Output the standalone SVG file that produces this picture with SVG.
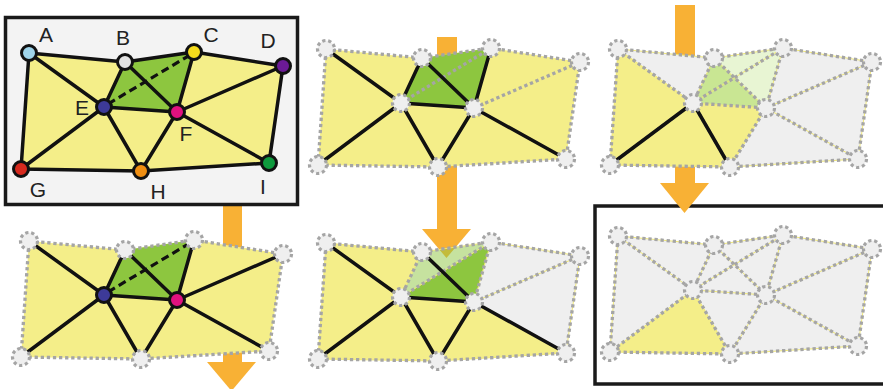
<svg xmlns="http://www.w3.org/2000/svg" xmlns:xlink="http://www.w3.org/1999/xlink" width="883" height="389" viewBox="0 0 883 389">
<style>
.frame{stroke:#1a1a1a;stroke-width:3.5}
.yel{fill:#f4ee89}
.grn{fill:#8dc63f}
.lgrn{fill:#8dc63f;fill-opacity:0.5}
.mgrn{fill:#c9e693}
.vlgrn{fill:#e8f5d3}
.gry{fill:#efefef}
.blk{fill:none;stroke:#111;stroke-width:3.5;stroke-linecap:round;stroke-linejoin:round}
.dash{fill:none;stroke:#111;stroke-width:3.2;stroke-dasharray:8 4.5}
.dot{fill:none;stroke:#a5a5a5;stroke-width:3.3;stroke-dasharray:3.3 2.8}
.thin{fill:none;stroke:#f0e878;stroke-width:1}
.gn{fill:#efefef;stroke:#a5a5a5;stroke-width:3.2;stroke-dasharray:3.2 2.8}
.cn{stroke:#111;stroke-width:3}
.lbl{font-family:"Liberation Sans",Arial,sans-serif;font-size:21px;fill:#222;text-anchor:middle}
.arr{fill:#f8b135}
</style>
<defs>
<path id="outer" d="M29,53 L125,62 L194,52 L283,66 L269,163 L141,171 L21,169 Z"/>
<path id="inner" d="M29,53 L104,107 M125,62 L104,107 M125,62 L177,112 M194,52 L177,112 M104,107 L177,112 M104,107 L21,169 M104,107 L141,171 M177,112 L141,171 M177,112 L283,66 M177,112 L269,163 M104,107 L194,52"/>
<polygon id="outerfill" points="29,53 125,62 194,52 283,66 269,163 141,171 21,169"/>
<polygon id="quad" points="125,62 194,52 177,112 104,107"/>
<g id="gnodes">
<circle class="gn" cx="29" cy="53" r="8.5"/>
<circle class="gn" cx="125" cy="62" r="8.5"/>
<circle class="gn" cx="194" cy="52" r="8.5"/>
<circle class="gn" cx="283" cy="66" r="8.5"/>
<circle class="gn" cx="104" cy="107" r="8.5"/>
<circle class="gn" cx="177" cy="112" r="8.5"/>
<circle class="gn" cx="21" cy="169" r="8.5"/>
<circle class="gn" cx="141" cy="171" r="8.5"/>
<circle class="gn" cx="269" cy="163" r="8.5"/>
</g>
</defs>

<!-- frame of last panel -->
<rect id="frame6" class="frame" x="595" y="206" width="300" height="178" fill="#ffffff"/>

<!-- arrows -->
<g id="arrows">
<rect class="arr" x="223" y="200" width="19" height="163"/>
<polygon class="arr" points="207,362 256,362 231.5,391"/>
<rect class="arr" x="437" y="37" width="20" height="193"/>
<polygon class="arr" points="422,229 471,229 446.5,258"/>
<rect class="arr" x="675" y="5" width="20" height="179"/>
<polygon class="arr" points="660,183 709,183 684.5,213"/>
</g>

<!-- frame of first panel -->
<rect id="frame1" class="frame" x="5.5" y="17.5" width="292" height="187" fill="#f3f3f3"/>

<!-- Panel 1 -->
<g id="panel1">
<use xlink:href="#outerfill" class="yel"/>
<use xlink:href="#quad" class="grn"/>
<g id="p1-connectors">
<use xlink:href="#outer" class="blk"/>
<path class="blk" d="M29,53 L104,107 M125,62 L104,107 M125,62 L177,112 M194,52 L177,112 M104,107 L177,112 M104,107 L21,169 M104,107 L141,171 M177,112 L141,171 M177,112 L283,66 M177,112 L269,163"/>
<path class="dash" d="M108,104 L190,55"/>
</g>
<g id="p1-A"><circle class="cn" cx="29" cy="53" r="7.5" fill="#9fd4ea"/><text class="lbl" x="46" y="42">A</text></g>
<g id="p1-B"><circle class="cn" cx="125" cy="62" r="7.5" fill="#e2e2e2"/><text class="lbl" x="123" y="45">B</text></g>
<g id="p1-C"><circle class="cn" cx="194" cy="52" r="7.5" fill="#f6dc1c"/><text class="lbl" x="211" y="42">C</text></g>
<g id="p1-D"><circle class="cn" cx="283" cy="66" r="7.5" fill="#6b1a96"/><text class="lbl" x="268" y="48">D</text></g>
<g id="p1-E"><circle class="cn" cx="104" cy="107" r="7.5" fill="#3d3a98"/><text class="lbl" x="82" y="115">E</text></g>
<g id="p1-F"><circle class="cn" cx="177" cy="112" r="7.5" fill="#e0117f"/><text class="lbl" x="186" y="141">F</text></g>
<g id="p1-G"><circle class="cn" cx="21" cy="169" r="7.5" fill="#d72a1e"/><text class="lbl" x="38" y="197">G</text></g>
<g id="p1-H"><circle class="cn" cx="141" cy="171" r="7.5" fill="#ef8e12"/><text class="lbl" x="158" y="199">H</text></g>
<g id="p1-I"><circle class="cn" cx="269" cy="163" r="7.5" fill="#0e9a3d"/><text class="lbl" x="263" y="194">I</text></g>
</g>

<!-- Panel 2 -->
<g id="panel2" transform="translate(297,-4)">
<use xlink:href="#outerfill" class="yel"/>
<use xlink:href="#quad" class="grn"/>
<g id="p2-connectors">
<use xlink:href="#outer" class="dot"/>
<path class="dot" d="M104,107 L194,52 M177,112 L283,66"/>
<path class="blk" d="M29,53 L104,107 M125,62 L104,107 M125,62 L177,112 M194,52 L177,112 M104,107 L177,112 M104,107 L21,169 M104,107 L141,171 M177,112 L141,171 M177,112 L269,163"/>
</g>
<g id="p2-nodes"><use xlink:href="#gnodes"/></g>
</g>

<!-- Panel 3 -->
<g id="panel3" transform="translate(589,-4)">
<use xlink:href="#outerfill" class="gry"/>
<polygon class="yel" points="29,53 104,107 177,112 141,171 21,169"/>
<polygon class="mgrn" points="125,62 104,107 177,112"/>
<polygon class="vlgrn" points="125,62 194,52 177,112"/>
<g id="p3-connectors">
<use xlink:href="#outer" class="thin"/>
<use xlink:href="#inner" class="thin"/>
<use xlink:href="#outer" class="dot"/>
<use xlink:href="#inner" class="dot"/>
<path class="blk" d="M104,107 L21,169 M104,107 L141,171"/>
</g>
<g id="p3-nodes"><use xlink:href="#gnodes"/></g>
</g>

<!-- Panel 4 -->
<g id="panel4" transform="translate(0,188)">
<use xlink:href="#outerfill" class="yel"/>
<use xlink:href="#quad" class="grn"/>
<g id="p4-connectors">
<use xlink:href="#outer" class="dot"/>
<path class="blk" d="M29,53 L104,107 M125,62 L104,107 M125,62 L177,112 M194,52 L177,112 M104,107 L177,112 M104,107 L21,169 M104,107 L141,171 M177,112 L141,171 M177,112 L283,66 M177,112 L269,163"/>
<path class="dash" d="M108,104 L190,55"/>
</g>
<g id="p4-A"><circle class="gn" cx="29" cy="53" r="8.5"/></g>
<g id="p4-B"><circle class="gn" cx="125" cy="62" r="8.5"/></g>
<g id="p4-C"><circle class="gn" cx="194" cy="52" r="8.5"/></g>
<g id="p4-D"><circle class="gn" cx="283" cy="66" r="8.5"/></g>
<g id="p4-E"><circle class="cn" cx="104" cy="107" r="7.5" fill="#3d3a98"/></g>
<g id="p4-F"><circle class="cn" cx="177" cy="112" r="7.5" fill="#e0117f"/></g>
<g id="p4-G"><circle class="gn" cx="21" cy="169" r="8.5"/></g>
<g id="p4-H"><circle class="gn" cx="141" cy="171" r="8.5"/></g>
<g id="p4-I"><circle class="gn" cx="269" cy="163" r="8.5"/></g>
</g>

<!-- Panel 5 -->
<g id="panel5" transform="translate(297,190)">
<polygon class="yel" points="29,53 125,62 104,107 177,112 269,163 141,171 21,169"/>
<polygon class="gry" points="194,52 283,66 269,163 177,112"/>
<polygon class="lgrn" points="125,62 194,52 104,107"/>
<polygon class="grn" points="104,107 194,52 177,112"/>
<g id="p5-connectors">
<use xlink:href="#outer" class="thin"/>
<use xlink:href="#inner" class="thin"/>
<use xlink:href="#outer" class="dot"/>
<path class="dot" d="M125,62 L104,107 M104,107 L194,52 M194,52 L177,112 M177,112 L283,66"/>
<path class="blk" d="M29,53 L104,107 M104,107 L21,169 M104,107 L141,171 M177,112 L141,171 M177,112 L269,163 M104,107 L177,112 M125,62 L177,112"/>
</g>
<g id="p5-nodes"><use xlink:href="#gnodes"/></g>
</g>

<!-- Panel 6 -->
<g id="panel6" transform="translate(589,183)">
<use xlink:href="#outerfill" class="gry"/>
<polygon class="yel" points="21,169 104,107 141,171"/>
<g id="p6-connectors">
<use xlink:href="#outer" class="thin"/>
<use xlink:href="#inner" class="thin"/>
<use xlink:href="#outer" class="dot"/>
<use xlink:href="#inner" class="dot"/>
</g>
<g id="p6-nodes"><use xlink:href="#gnodes"/></g>
</g>
</svg>
